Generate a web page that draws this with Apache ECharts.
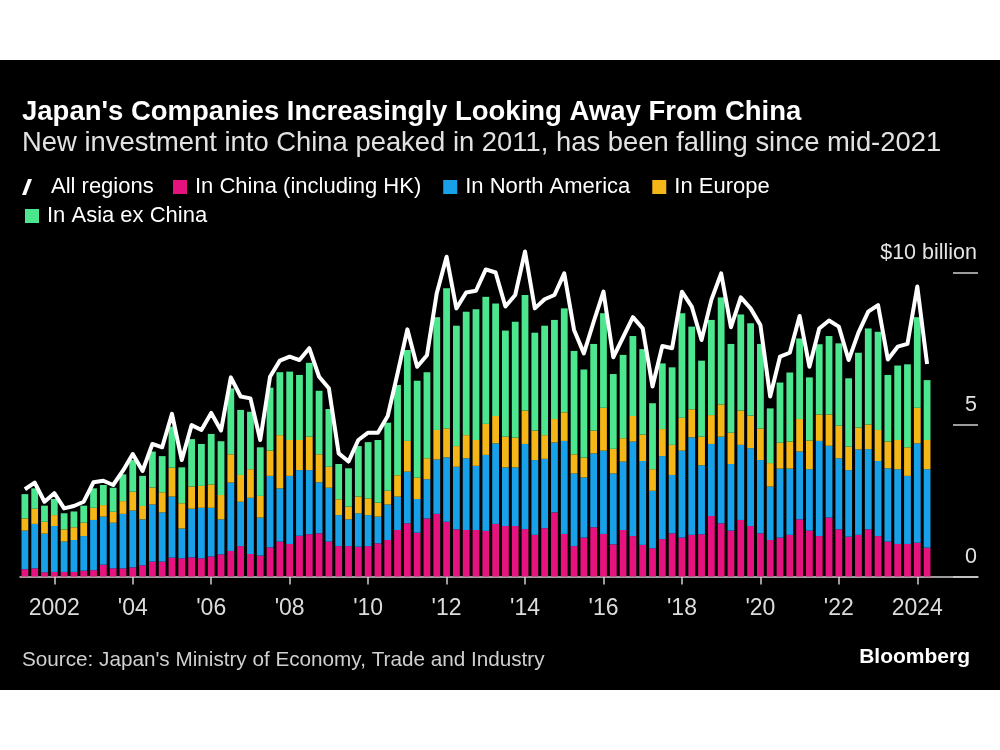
<!DOCTYPE html>
<html><head><meta charset="utf-8">
<script src="https://cdn.jsdelivr.net/npm/echarts@6/dist/echarts.min.js"></script>
<style>
html,body{margin:0;padding:0;background:#fff;width:1000px;height:750px;overflow:hidden}
#chart{position:absolute;left:0;top:60px;width:1000px;height:630px;background:#000}
</style>
</head><body><div id="chart"></div>
<script>
// First bar is 2001 Q2; one bar per quarter through 2024 Q2
const startYear = 2001, startQuarter = 2;
const yearTicks = [2002, 2004, 2006, 2008, 2010, 2012, 2014, 2016, 2018, 2020, 2022, 2024];
const yTicks = [0, 5, 10];
const seriesNames = ['All regions', 'In China (including HK)', 'In North America', 'In Europe', 'In Asia ex China'];

const china = [0.24,0.27,0.14,0.15,0.15,0.15,0.19,0.21,0.39,0.27,
0.27,0.30,0.37,0.49,0.49,0.62,0.60,0.63,0.60,0.66,
0.73,0.84,1.00,0.74,0.69,0.96,1.15,1.07,1.34,1.39,
1.42,1.15,1.00,1.00,0.98,1.00,1.09,1.20,1.53,1.75,
1.44,1.91,2.06,1.80,1.55,1.53,1.53,1.50,1.73,1.66,
1.66,1.56,1.37,1.59,2.11,1.40,1.00,1.28,1.62,1.40,
1.06,1.53,1.33,1.04,0.93,1.23,1.42,1.28,1.37,1.39,
1.99,1.75,1.51,1.86,1.66,1.42,1.20,1.28,1.37,1.88,
1.51,1.33,1.94,1.55,1.31,1.37,1.55,1.33,1.15,1.07,
1.07,1.11,0.95];
const northAmerica = [1.27,1.46,1.27,1.51,1.00,1.05,1.14,1.65,1.58,1.50,
1.79,1.87,1.51,1.88,1.62,2.01,0.98,1.60,1.66,1.60,
1.15,2.25,1.46,1.85,1.25,2.35,1.75,2.24,2.16,2.11,
1.68,1.77,1.02,0.88,1.10,1.02,0.88,1.17,1.10,1.70,
1.11,1.29,1.79,2.12,2.06,2.36,2.11,2.50,2.65,1.93,
1.93,2.80,2.46,2.28,2.30,3.06,2.39,1.98,2.43,2.74,
2.33,2.25,3.11,2.76,1.89,2.73,1.92,2.86,3.21,2.27,
2.37,2.85,2.19,2.47,2.56,2.41,1.76,2.27,2.18,2.23,
2.02,3.13,2.36,2.34,2.19,2.81,2.64,2.47,2.41,2.46,
2.24,3.27,2.58];
const europe = [0.40,0.50,0.39,0.36,0.40,0.42,0.44,0.40,0.38,0.36,
0.42,0.62,0.44,0.56,0.66,0.95,0.83,0.73,0.72,0.77,
0.80,0.93,0.88,0.94,0.71,0.83,1.75,1.18,0.99,1.10,
0.92,0.69,0.52,0.42,0.55,0.55,0.46,0.45,0.70,1.01,
0.70,0.69,0.97,0.95,0.68,0.76,0.85,1.02,0.90,1.01,
0.98,1.10,0.97,0.78,0.77,0.94,0.63,0.65,0.75,1.41,
0.81,0.77,0.84,0.87,0.71,0.89,0.99,1.08,0.92,0.94,
0.95,1.06,1.03,1.13,1.07,1.04,0.77,0.85,0.89,1.07,
0.94,0.87,1.03,1.07,0.77,0.72,0.81,1.02,0.88,0.96,
0.94,1.17,0.96];
const asiaExChina = [0.80,0.67,0.53,0.53,0.53,0.52,0.56,0.64,0.66,0.79,
0.88,1.04,0.99,1.18,1.19,1.35,1.18,1.56,1.38,1.66,
1.77,2.17,2.14,1.89,1.60,2.07,2.07,2.25,2.14,2.43,
2.09,1.90,1.16,1.26,1.66,1.85,2.06,2.24,2.97,2.99,
3.19,2.83,3.71,4.61,3.96,4.06,4.30,4.18,3.70,3.49,
3.81,3.80,3.22,3.60,3.26,3.42,3.40,2.90,2.85,3.11,
2.46,2.74,2.63,2.81,2.17,2.16,2.55,3.44,2.72,2.50,
3.13,3.52,2.92,3.16,3.04,2.78,1.80,1.98,2.27,2.65,
2.08,2.31,2.58,2.71,2.25,2.46,3.16,3.23,2.19,2.45,
2.73,2.98,1.97];
const allRegions = [2.87,3.09,2.46,2.74,2.24,2.32,2.46,3.10,3.15,3.01,
3.48,4.03,3.47,4.36,4.25,5.35,3.83,4.98,4.82,5.38,
4.80,6.55,5.92,5.86,4.49,6.57,7.10,7.23,7.12,7.51,
6.57,6.19,4.05,3.78,4.49,4.73,4.73,5.28,6.68,8.13,
6.90,7.28,9.32,10.52,8.82,9.34,9.40,10.10,10.00,8.88,
9.26,10.69,8.82,9.12,9.26,9.97,8.11,7.34,8.38,9.37,
7.21,7.87,8.53,8.16,6.25,7.58,7.51,9.37,8.88,7.78,
9.10,9.97,8.20,9.18,8.82,8.27,5.92,7.23,7.36,8.57,
6.90,8.16,8.42,8.22,7.12,8.02,8.71,8.93,7.14,7.56,
7.65,9.54,6.99];

// quarter category labels, e.g. "2001 Q2"
const quarterLabels = china.map((_, i) => {
  const k = startQuarter - 1 + i;
  return (startYear + Math.floor(k / 4)) + ' Q' + (k % 4 + 1);
});

const FONT = '"Liberation Sans", Arial, sans-serif';
const colors = {china: '#E6137F', na: '#18A0E8', eu: '#F5B617', asia: '#4CE68E'};
const tickColor = '#d0d0d0';

const chart = echarts.init(document.getElementById('chart'), null, {renderer: 'canvas'});
const barCommon = {type: 'bar', stack: 'total', barWidth: 6.8, xAxisIndex: 0, yAxisIndex: 0, animation: false};
const legendText = {color: '#ffffff', fontSize: 22, fontFamily: FONT, padding: [0, 0, 0, 3]};

chart.setOption({
  backgroundColor: '#000',
  animation: false,
  title: [
    {text: "Japan's Companies Increasingly Looking Away From China", left: 22, top: 38, padding: 0,
     textStyle: {color: '#fff', fontSize: 27.5, fontWeight: 'bold', fontFamily: FONT}},
    {text: 'New investment into China peaked in 2011, has been falling since mid-2021', left: 22, top: 70, padding: 0,
     textStyle: {color: '#e2e2e2', fontSize: 27.4, fontWeight: 'normal', fontFamily: FONT}},
    {text: "Source: Japan's Ministry of Economy, Trade and Industry", left: 22, top: 590, padding: 0,
     textStyle: {color: '#d0d0d0', fontSize: 20.7, fontWeight: 'normal', fontFamily: FONT}},
    {text: 'Bloomberg', right: 30, top: 587, padding: 0,
     textStyle: {color: '#fff', fontSize: 21, fontWeight: 'bold', fontFamily: FONT}}
  ],
  legend: [
    {data: [{name: seriesNames[0], icon: 'path://M0,16L6,0L10,0L4,16Z'}], left: 22, top: 116, padding: 0,
     itemWidth: 10, itemHeight: 17, textStyle: Object.assign({}, legendText, {padding: [0, 0, 0, 14]}), selectedMode: false},
    {data: [seriesNames[1], seriesNames[2], seriesNames[3]], left: 173, top: 116, padding: 0, icon: 'rect',
     itemWidth: 14, itemHeight: 14, itemGap: 22, textStyle: legendText, selectedMode: false},
    {data: [seriesNames[4]], left: 25, top: 145, padding: 0, icon: 'rect',
     itemWidth: 14, itemHeight: 14, textStyle: legendText, selectedMode: false}
  ],
  grid: [
    {left: 19.98, right: 68, top: 182.1, bottom: 113.5, containLabel: false},
    {left: 20, right: 22, top: 182.1, bottom: 113.5, containLabel: false}
  ],
  xAxis: [
    {type: 'category', gridIndex: 0, data: quarterLabels, boundaryGap: true, show: false},
    {type: 'value', gridIndex: 1, min: 2001.1256, max: 2025.547,
     axisLine: {show: true, lineStyle: {color: tickColor, width: 1.5}},
     axisTick: {show: true, customValues: yearTicks, length: 8, lineStyle: {color: tickColor, width: 1.5}},
     axisLabel: {customValues: yearTicks, color: '#dcdcdc', fontSize: 23, fontFamily: FONT, margin: 21,
       formatter: v => (v === 2002 || v === 2024) ? String(v) : "'" + String(v).slice(2)},
     splitLine: {show: false}}
  ],
  yAxis: [
    {type: 'value', gridIndex: 0, min: 0, max: 11, show: false, splitLine: {show: false}},
    {type: 'value', gridIndex: 1, position: 'right', min: 0, max: 11,
     axisLine: {show: false},
     splitLine: {show: false},
     axisTick: {show: true, inside: true, length: 25, customValues: yTicks, lineStyle: {color: tickColor, width: 1.5}},
     axisLabel: {inside: true, customValues: yTicks, margin: 1, align: 'right', verticalAlign: 'bottom', lineHeight: 39,
       color: '#e4e4e4', fontSize: 21.5, fontFamily: FONT,
       formatter: v => v === 10 ? '$10 billion' : String(v)}}
  ],
  series: [
    Object.assign({name: seriesNames[1], data: china, itemStyle: {color: colors.china}}, barCommon),
    Object.assign({name: seriesNames[2], data: northAmerica, itemStyle: {color: colors.na}}, barCommon),
    Object.assign({name: seriesNames[3], data: europe, itemStyle: {color: colors.eu}}, barCommon),
    Object.assign({name: seriesNames[4], data: asiaExChina, itemStyle: {color: colors.asia}}, barCommon),
    {name: seriesNames[0], type: 'line', data: allRegions, xAxisIndex: 0, yAxisIndex: 0, symbol: 'none', z: 5,
     lineStyle: {color: '#ffffff', width: 4, join: 'round'}, itemStyle: {color: '#ffffff'}, animation: false}
  ]
});
</script>
</body></html>
